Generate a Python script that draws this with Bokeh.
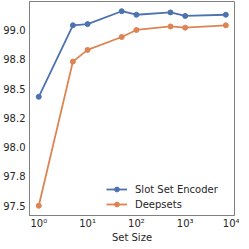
from bokeh.plotting import figure
from bokeh.models import Range1d, FixedTicker, Legend, LegendItem
from bokeh.embed import file_html
from bokeh.resources import INLINE

set_sizes = [1, 5, 10, 50, 100, 500, 1000, 6800]
slot_set_encoder = [98.43, 99.04, 99.05, 99.16, 99.13, 99.15, 99.12, 99.13]
deepsets = [97.50, 98.73, 98.83, 98.94, 99.00, 99.03, 99.02, 99.04]

y_ticks = [97.5, 97.75, 98.0, 98.25, 98.5, 98.75, 99.0]
y_tick_labels = ["97.5", "97.8", "98.0", "98.2", "98.5", "98.8", "99.0"]
x_ticks = [1, 10, 100, 1000, 10000]
x_tick_labels = ["10⁰", "10¹", "10²", "10³", "10⁴"]

blue = "#4c72b0"
orange = "#dd8452"
frame_gray = "#808080"
font = "DejaVu Sans"

p = figure(
    x_axis_type="log",
    x_range=Range1d(10 ** -0.19, 10 ** 4.01),
    y_range=Range1d(97.417, 99.243),
    frame_width=205, frame_height=214,
    min_border_left=23, min_border_right=5, min_border_top=1, min_border_bottom=26,
    output_backend="svg", toolbar_location=None,
    background_fill_color="white", border_fill_color="white",
)
p.styles = {"margin-bottom": "-14px"}

p.grid.visible = False
p.outline_line_color = frame_gray
p.outline_line_width = 1

for ax in (p.xaxis[0], p.yaxis[0]):
    ax.axis_line_color = frame_gray
    ax.major_tick_line_color = None
    ax.minor_tick_line_color = None
    ax.major_tick_out = 0
    ax.major_tick_in = 0
    ax.major_label_text_font = font
    ax.major_label_text_font_size = "10px"
    ax.major_label_text_color = "#262626"
    ax.axis_label_text_font = font
    ax.axis_label_text_font_size = "10px"
    ax.axis_label_text_font_style = "normal"
    ax.axis_label_text_color = "#262626"

p.yaxis.ticker = FixedTicker(ticks=y_ticks)
p.yaxis.major_label_overrides = dict(zip(y_ticks, y_tick_labels))
p.yaxis.major_label_standoff = 4

p.xaxis.ticker = FixedTicker(ticks=x_ticks)
overrides = {float(k): v for k, v in zip(x_ticks, x_tick_labels)}
overrides.update({k: v for k, v in zip(x_ticks, x_tick_labels)})
p.xaxis.major_label_overrides = overrides
p.xaxis.major_label_standoff = 2
p.xaxis.axis_label = "Set Size"
p.xaxis.axis_label_standoff = 0

l1 = p.line(set_sizes, slot_set_encoder, line_color=blue, line_width=1.8)
c1 = p.scatter(set_sizes, slot_set_encoder, size=5, fill_color=blue, line_color=blue)
l2 = p.line(set_sizes, deepsets, line_color=orange, line_width=1.8)
c2 = p.scatter(set_sizes, deepsets, size=5, fill_color=orange, line_color=orange)

legend = Legend(
    items=[
        LegendItem(label="Slot Set Encoder", renderers=[l1, c1]),
        LegendItem(label="Deepsets", renderers=[l2, c2]),
    ],
    location=(77, 5),
    border_line_color=None,
    background_fill_alpha=0,
    label_text_font=font,
    label_text_font_size="10px",
    label_text_color="#262626",
    glyph_width=21, glyph_height=12,
    label_height=12,
    spacing=3, padding=4, margin=0,
    label_standoff=8,
)
p.add_layout(legend)

open("out.html", "w").write(file_html(p, INLINE))
